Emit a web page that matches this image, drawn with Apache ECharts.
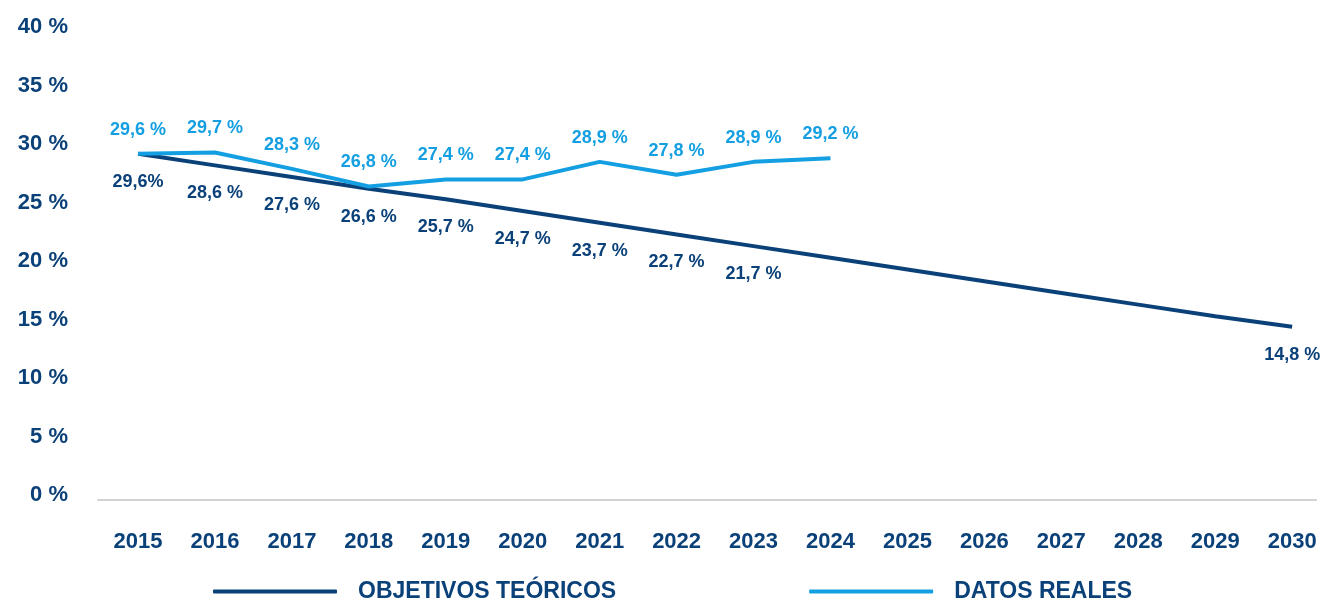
<!DOCTYPE html>
<html>
<head>
<meta charset="utf-8">
<script src="https://cdn.jsdelivr.net/npm/echarts@6/dist/echarts.min.js"></script>
<style>html,body{margin:0;padding:0;background:#fff;}#c{width:1322px;height:601px;}</style>
</head>
<body>
<div id="c"></div>
<script>
var years = [2015,2016,2017,2018,2019,2020,2021,2022,2023,2024,2025,2026,2027,2028,2029,2030];
var objetivos = [29.6,28.6,27.6,26.6,25.7,24.7,23.7,22.7,21.7,20.7,19.7,18.7,17.7,16.7,15.7,14.8];
var objetivosLabels = ['29,6%','28,6 %','27,6 %','26,6 %','25,7 %','24,7 %','23,7 %','22,7 %','21,7 %','','','','','','','14,8 %'];
var reales = [29.6,29.7,28.3,26.8,27.4,27.4,28.9,27.8,28.9,29.2];
var realesLabels = ['29,6 %','29,7 %','28,3 %','26,8 %','27,4 %','27,4 %','28,9 %','27,8 %','28,9 %','29,2 %'];

var DARK = '#0b4179';
var LIGHT = '#139fe1';
var FONT = '"Liberation Sans", Arial, sans-serif';

function pts(vals, labels) {
  return vals.map(function (v, i) {
    return { value: [years[i], v], label: { formatter: labels[i] } };
  });
}

var chart = echarts.init(document.getElementById('c'));
chart.setOption({
  animation: false,
  textStyle: { fontFamily: FONT },
  grid: { left: 98, right: 6, top: 32, bottom: 101 },
  legend: {
    left: 213, top: 580, padding: 0,
    itemWidth: 124, itemHeight: 4, itemGap: 193,
    textStyle: { fontFamily: FONT, fontSize: 23, fontWeight: 'bold', color: DARK, padding: [0, 0, 0, 16] },
    data: [
      { name: 'OBJETIVOS TEÓRICOS', icon: 'roundRect' },
      { name: 'DATOS REALES', icon: 'roundRect' }
    ]
  },
  xAxis: {
    type: 'value',
    min: 2014.48, max: 2030.31,
    axisLine: { show: true, onZero: false, lineStyle: { color: '#d2d2d2', width: 2 } },
    axisTick: { show: false },
    splitLine: { show: false },
    axisLabel: {
      customValues: years, margin: 31,
      color: DARK, fontSize: 22, fontWeight: 'bold', fontFamily: FONT,
      formatter: function (v) { return String(v); }
    }
  },
  yAxis: {
    type: 'value', min: 0, max: 40, interval: 5,
    axisLine: { show: false }, axisTick: { show: false }, splitLine: { show: false },
    axisLabel: {
      margin: 30, color: DARK, fontSize: 22, fontWeight: 'bold', fontFamily: FONT,
      verticalAlign: 'bottom', lineHeight: 10,
      formatter: function (v) { return v + ' %'; }
    }
  },
  series: [
    {
      name: 'OBJETIVOS TEÓRICOS', type: 'line', symbol: 'circle', symbolSize: 0, showSymbol: true, z: 2,
      lineStyle: { color: DARK, width: 4 }, itemStyle: { color: DARK },
      label: { show: true, position: 'bottom', distance: 19, color: DARK, fontSize: 18, fontWeight: 'bold', fontFamily: FONT },
      data: pts(objetivos, objetivosLabels)
    },
    {
      name: 'DATOS REALES', type: 'line', symbol: 'circle', symbolSize: 0, showSymbol: true, z: 3,
      lineStyle: { color: LIGHT, width: 4 }, itemStyle: { color: LIGHT },
      label: { show: true, position: 'top', distance: 15, color: LIGHT, fontSize: 18, fontWeight: 'bold', fontFamily: FONT },
      data: pts(reales, realesLabels)
    }
  ]
});
</script>
</body>
</html>
